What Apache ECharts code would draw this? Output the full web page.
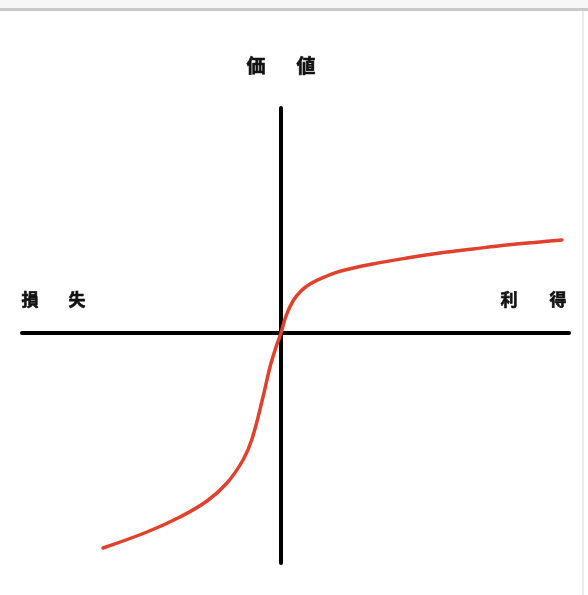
<!DOCTYPE html>
<html>
<head>
<meta charset="utf-8">
<script src="https://cdn.jsdelivr.net/npm/echarts@6/dist/echarts.min.js"></script>
<style>
html,body{margin:0;padding:0;background:#fff;}
#chart{width:588px;height:595px;}
</style>
</head>
<body>
<div id="chart"></div>
<script>
// Value function (prospect theory): x = gain/loss, y = value
const curveX = [-178, -134, -101, -74, -54, -38, -29, -18, -11, -5, 0, 5, 12, 20, 29, 46, 60, 92, 126, 159, 192, 226, 259, 281];
const curveY = [-215, -199, -184, -168, -150, -127, -106, -64, -34, -14, 0, 17, 32, 42, 49, 57, 62, 69, 75, 80, 84, 88, 91, 93];
const xRange = [-259, 288];
const yRange = [-230, 225];
const labelValue = ['価', '値'];
const labelLoss = ['損', '失'];
const labelGain = ['利', '得'];

const chart = echarts.init(document.getElementById('chart'));
const font = '"Noto Sans CJK JP", "Noto Sans", sans-serif';
function glyph(t, x, y, size) {
  return { type: 'text', x: x, y: y, style: { text: t, font: 'bold ' + size + 'px ' + font, fill: '#111', stroke: '#111', lineWidth: 0.6, textAlign: 'center', textVerticalAlign: 'middle' } };
}
chart.setOption({
  backgroundColor: '#ffffff',
  animation: false,
  grid: { left: 22, right: 19, top: 108, bottom: 32 },
  xAxis: {
    type: 'value', min: xRange[0], max: xRange[1],
    axisLine: { show: true, onZero: true, lineStyle: { color: '#000', width: 4 } },
    axisTick: { show: false }, axisLabel: { show: false }, splitLine: { show: false }
  },
  yAxis: {
    type: 'value', min: yRange[0], max: yRange[1],
    axisLine: { show: true, onZero: true, lineStyle: { color: '#000', width: 4 } },
    axisTick: { show: false }, axisLabel: { show: false }, splitLine: { show: false }
  },
  series: [{
    type: 'line',
    data: curveX.map((x, i) => [x, curveY[i]]),
    smooth: 0.4,
    showSymbol: false,
    lineStyle: { color: '#e0412d', width: 3.5, cap: 'round' },
    z: 1
  }],
  graphic: [
    { type: 'rect', shape: { x: 0, y: 0, width: 588, height: 8 }, style: { fill: '#f7f7f7' }, silent: true },
    { type: 'rect', shape: { x: 0, y: 8, width: 588, height: 3 }, style: { fill: '#c9c9c9' }, silent: true },
    { type: 'rect', shape: { x: 582, y: 11, width: 2, height: 584 }, style: { fill: '#ebebeb' }, silent: true },
    glyph(labelValue[0], 256, 66, 19),
    glyph(labelValue[1], 306, 66, 19),
    glyph(labelLoss[0], 30, 300, 17),
    glyph(labelLoss[1], 77, 300, 17),
    glyph(labelGain[0], 509, 300, 17),
    glyph(labelGain[1], 558, 300, 17)
  ]
});
</script>
</body>
</html>
